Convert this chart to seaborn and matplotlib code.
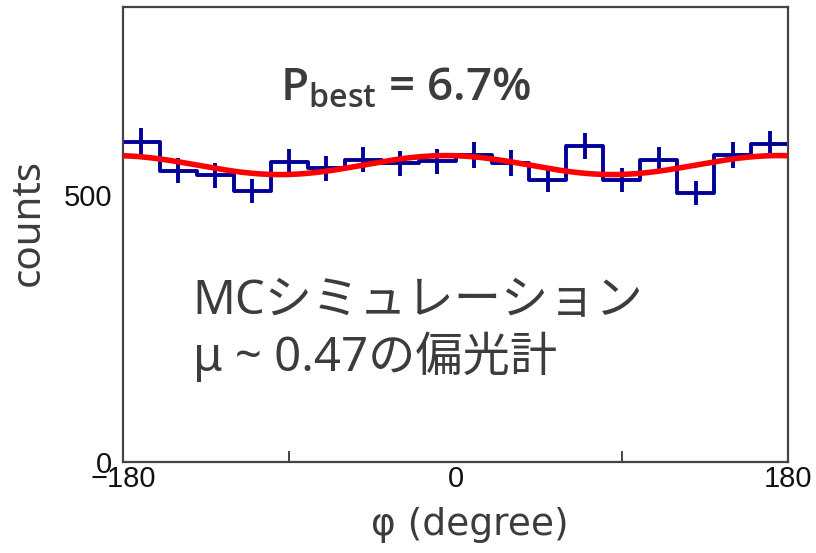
import numpy as np
import pandas as pd
import matplotlib
matplotlib.use("Agg")
import matplotlib.pyplot as plt
import seaborn as sns

# Azimuthal distribution of scattering angles (18 bins of 20 degrees)
bin_edges = list(range(-180, 181, 20))
bin_centers = list(range(-170, 171, 20))
counts = [600, 545, 537, 508, 562, 550, 566, 559, 563,
          575, 560, 528, 592, 528, 566, 503, 575, 595]

# Modulation curve N(phi) = N0 * (1 + a * cos(2 (phi - phi0)))
fit_n0 = 556.0
fit_amp = 0.032
fit_phi0 = -5.0

x_ticks = [-180, 0, 180]
x_tick_labels = ["\u2212180", "0", "180"]
y_ticks = [0, 500]
y_tick_labels = ["0", "500"]

sns.set_theme(style="white")
plt.rcParams["font.family"] = ["Noto Sans", "Noto Sans CJK JP", "DejaVu Sans"]
plt.rcParams["mathtext.fontset"] = "custom"
plt.rcParams["mathtext.rm"] = "Open Sans"
plt.rcParams["mathtext.bf"] = "Open Sans:semibold"

text_gray = "#3c3c3c"
axis_gray = "#444444"
hist_blue = "#000099"

fig = plt.figure(figsize=(8.16, 5.53), dpi=100)
ax = fig.add_axes([123 / 816, (553 - 462) / 553, (788 - 123) / 816, (462 - 7) / 553])

hist_df = pd.DataFrame({"phi": bin_centers, "counts": counts})
sns.histplot(data=hist_df, x="phi", weights="counts", bins=bin_edges,
             element="step", fill=False, color=hist_blue, linewidth=2.8, ax=ax)

errors = np.sqrt(np.array(counts, dtype=float))
ax.errorbar(bin_centers, counts, yerr=errors, fmt="none",
            ecolor=hist_blue, elinewidth=2.8, capsize=0, zorder=3)

phi_fine = np.linspace(-180, 180, 361)
fit_vals = fit_n0 * (1 + fit_amp * np.cos(np.deg2rad(2 * (phi_fine - fit_phi0))))
sns.lineplot(x=phi_fine, y=fit_vals, color="#ff0000", linewidth=4.0, ax=ax, zorder=4)

ax.set_xlim(-180, 180)
ax.set_ylim(0, 852)

ax.set_xticks(x_ticks)
ax.set_xticklabels(x_tick_labels, fontfamily="Liberation Sans", fontsize=21, color="#111111")
ax.set_xticks([-90, 90], minor=True)
ax.set_yticks(y_ticks)
ax.set_yticklabels(y_tick_labels, fontfamily="Liberation Sans", fontsize=21, color="#111111")
ax.tick_params(axis="both", which="major", direction="in", length=14, width=1.4,
               color=axis_gray)
ax.tick_params(axis="x", which="minor", direction="in", length=8, width=1.4,
               color=axis_gray, bottom=True)
ax.tick_params(axis="y", which="major", pad=8)
ax.tick_params(axis="x", which="major", pad=2)

for spine in ax.spines.values():
    spine.set_visible(True)
    spine.set_color(axis_gray)
    spine.set_linewidth(1.6)

ax.set_xlabel("\u03c6 (degree)", fontsize=27, color=text_gray,
              family=["DejaVu Sans"])
ax.set_ylabel("counts", fontsize=29, color=text_gray)
ax.xaxis.set_label_coords(0.522, -0.098)
ax.yaxis.set_label_coords(-0.112, 0.527)

ax.text(0.236, 0.82, r"P$_\mathbf{best}$ = 6.7%", transform=ax.transAxes,
        fontsize=33, fontweight="semibold", family=["Open Sans"], color=text_gray,
        ha="left", va="center")
ax.text(0.105, 0.29, "MCシミュレーション\nμ ~ 0.47の偏光計", transform=ax.transAxes,
        fontsize=34, color=text_gray, ha="left", va="center", linespacing=1.15)

fig.savefig("out.png", dpi=100)
